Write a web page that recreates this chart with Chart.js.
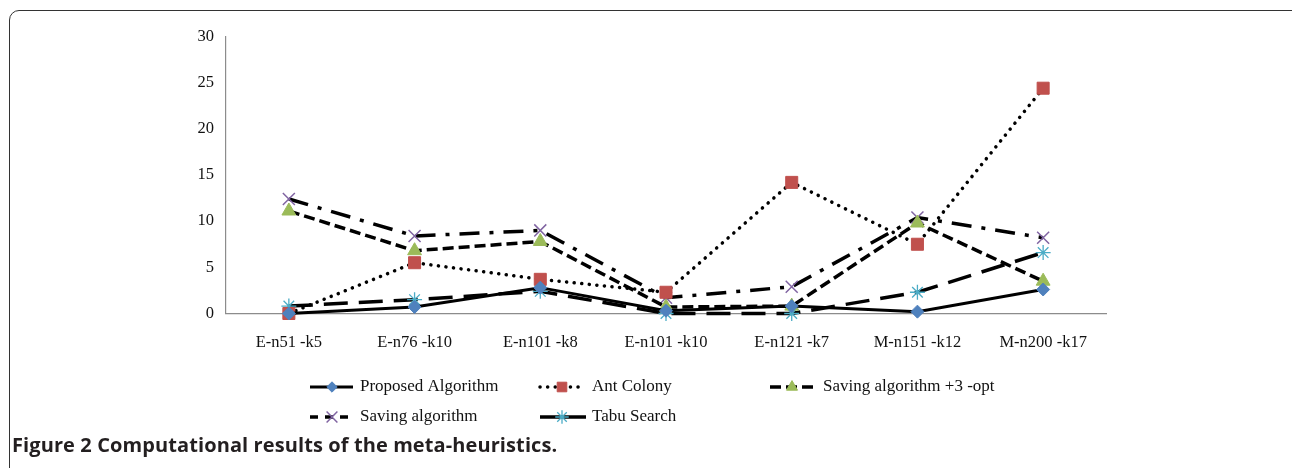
<!doctype html>
<html lang="en">
<head>
<meta charset="utf-8">
<title>Figure 2</title>
<style>
  body { margin: 0; background: #fff; }
  #frame { position: absolute; left: 9px; top: 10px; width: 1300px; height: 520px; border: 1.5px solid #333; border-radius: 10px; }
  #wrap { position: absolute; left: 0; top: 0; width: 1292px; height: 468px; }
  #caption { position: absolute; left: 12px; top: 431px; font: bold 20px "Open Sans", sans-serif; color: #231f20; letter-spacing: 0.1px; }
</style>
</head>
<body>
<div id="frame"></div>
<div id="wrap"><canvas id="myChart"></canvas></div>
<div id="caption">Figure 2 Computational results of the meta-heuristics.</div>

<script src="https://cdn.jsdelivr.net/npm/chart.js"></script>
<script>
    // instances on the x axis
    var instances = ['E-n51 -k5', 'E-n76 -k10', 'E-n101 -k8', 'E-n101 -k10', 'E-n121 -k7', 'M-n151 -k12', 'M-n200 -k17'];
    // values
    var proposed  = [0.0, 0.7, 2.8, 0.3, 0.8, 0.2, 2.6];
    var antColony = [0.0, 5.5, 3.7, 2.3, 14.2, 7.5, 24.4];
    var saving3opt = [11.1, 6.8, 7.8, 0.7, 0.8, 9.8, 3.5];
    var saving    = [12.4, 8.4, 9.0, 1.7, 2.9, 10.4, 8.2];
    var tabu      = [0.8, 1.5, 2.4, 0.0, 0.0, 2.3, 6.6];
    var yTicks    = [0, 5, 10, 15, 20, 25, 30];

    var serif = '"Liberation Serif", "Times New Roman", serif';

    // legend: line piece + marker + text, like the office chart
    var legendSlots = [
        {x: 310, y: 387, len: 43, text: 360},
        {x: 540, y: 387, len: 42, text: 592},
        {x: 770, y: 387, len: 47, text: 823},
        {x: 310, y: 417, len: 38, text: 360},
        {x: 540, y: 417, len: 46, text: 592}
    ];
    var legendPlugin = {
        id: 'lineLegend',
        afterDraw: function(chart) {
            var ctx = chart.ctx;
            chart.data.datasets.forEach(function(ds, i) {
                var s = legendSlots[i];
                ctx.save();
                ctx.strokeStyle = '#000';
                ctx.lineWidth = ds.borderWidth;
                ctx.lineCap = ds.borderCapStyle || 'butt';
                ctx.setLineDash(ds.legendDash || ds.borderDash || []);
                ctx.beginPath();
                ctx.moveTo(s.x, s.y);
                ctx.lineTo(s.x + s.len, s.y);
                ctx.stroke();
                ctx.setLineDash([]);
                ctx.lineCap = 'butt';
                ctx.lineWidth = ds.pointBorderWidth;
                ctx.fillStyle = ds.pointBackgroundColor;
                ctx.strokeStyle = ds.pointBorderColor;
                Chart.helpers.drawPoint(ctx, {
                    pointStyle: ds.pointStyle,
                    radius: ds.pointRadius * ds.legendScale,
                    rotation: 0,
                    borderWidth: ds.pointBorderWidth
                }, s.x + 22, s.y);
                ctx.fillStyle = '#111';
                ctx.font = '17px ' + serif;
                ctx.textBaseline = 'middle';
                ctx.fillText(ds.label, s.text, s.y);
                ctx.restore();
            });
        }
    };

    const ctx = document.getElementById('myChart');
    new Chart(ctx, {
        type: 'line',
        data: {
            labels: instances,
            datasets: [
                {
                    label: 'Proposed Algorithm',
                    data: proposed,
                    borderColor: '#000',
                    borderWidth: 3,
                    pointStyle: 'rectRot',
                    pointRadius: 6.5,
                    pointBackgroundColor: '#4f81bd',
                    pointBorderColor: '#4f81bd',
                    pointBorderWidth: 1,
                    legendScale: 0.8
                },
                {
                    label: 'Ant Colony',
                    data: antColony,
                    borderColor: '#000',
                    borderWidth: 3.5,
                    borderDash: [0.1, 7.5],
                    borderCapStyle: 'round',
                    pointStyle: 'rect',
                    pointRadius: 8.5,
                    pointBackgroundColor: '#c0504d',
                    pointBorderColor: '#c0504d',
                    pointBorderWidth: 1,
                    legendScale: 0.8
                },
                {
                    label: 'Saving algorithm +3 -opt',
                    data: saving3opt,
                    borderColor: '#000',
                    borderWidth: 3.5,
                    borderDash: [11, 5],
                    pointStyle: 'triangle',
                    pointRadius: 8,
                    pointBackgroundColor: '#9bbb59',
                    pointBorderColor: '#9bbb59',
                    pointBorderWidth: 1,
                    legendScale: 0.8
                },
                {
                    label: 'Saving algorithm',
                    data: saving,
                    borderColor: '#000',
                    borderWidth: 3.5,
                    borderDash: [20, 10, 4, 10],
                    legendDash: [8, 7],
                    pointStyle: 'crossRot',
                    pointRadius: 8.5,
                    pointBackgroundColor: '#8064a2',
                    pointBorderColor: '#8064a2',
                    pointBorderWidth: 1.5,
                    legendScale: 0.9
                },
                {
                    label: 'Tabu Search',
                    data: tabu,
                    borderColor: '#000',
                    borderWidth: 3.5,
                    borderDash: [24, 11],
                    legendDash: [],
                    pointStyle: 'star',
                    pointRadius: 7.5,
                    pointBackgroundColor: '#4bacc6',
                    pointBorderColor: '#4bacc6',
                    pointBorderWidth: 1.3,
                    legendScale: 0.9
                }
            ]
        },
        options: {
            responsive: true,
            maintainAspectRatio: false,
            animation: false,
            clip: false,
            layout: { padding: { left: 186, right: 186, top: 36.5, bottom: 114.5 } },
            plugins: {
                legend: { display: false },
                tooltip: { enabled: false }
            },
            scales: {
                x: {
                    offset: true,
                    grid: { display: false, drawTicks: false },
                    border: { color: '#8c8c8c', width: 1.2 },
                    ticks: { color: '#111', padding: 19, maxRotation: 0, font: { family: serif, size: 16.5 } },
                    afterFit: function(s) { s.height = 40; }
                },
                y: {
                    min: 0,
                    max: 30,
                    grid: { display: false, drawTicks: false },
                    border: { color: '#8c8c8c', width: 1.2 },
                    afterBuildTicks: function(s) { s.ticks = yTicks.map(function(v) { return {value: v}; }); },
                    ticks: { color: '#111', padding: 12, font: { family: serif, size: 16.5 } },
                    afterFit: function(s) { s.width = 40; }
                }
            }
        },
        plugins: [legendPlugin]
    });
</script>
</body>
</html>
